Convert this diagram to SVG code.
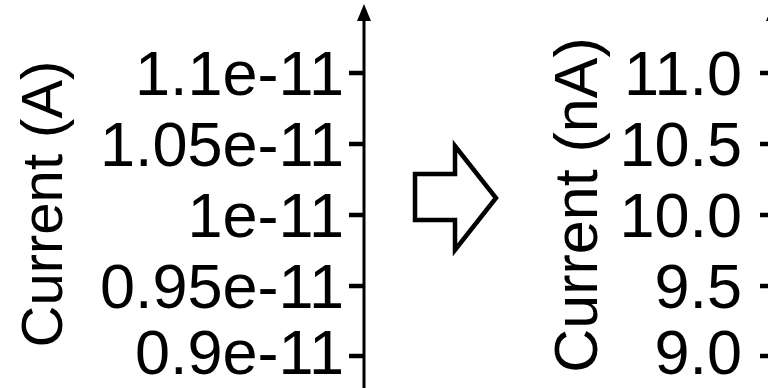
<svg xmlns="http://www.w3.org/2000/svg" width="768" height="388" viewBox="0 0 768 388">
<style>
.t{font-family:"Liberation Sans",Arial,sans-serif;font-size:63px;fill:#000}
.e{text-anchor:end}
.m{text-anchor:middle}
.ax{stroke:#000;stroke-width:3;fill:none}
.tk{stroke:#000;stroke-width:4.5;fill:none}
</style>
<rect width="768" height="388" fill="#fff"/>
<g id="left-axis">
<line class="ax" x1="364" y1="388" x2="364" y2="18"/>
<polygon points="364,4 357,21 371,21" fill="#000"/>
<g class="tk">
<line x1="349" y1="73" x2="364" y2="73"/>
<line x1="349" y1="144" x2="364" y2="144"/>
<line x1="349" y1="215" x2="364" y2="215"/>
<line x1="349" y1="286" x2="364" y2="286"/>
<line x1="349" y1="356" x2="364" y2="356"/>
</g>
<g class="t e">
<text x="344" y="95">1.1e-11</text>
<text x="344" y="166">1.05e-11</text>
<text x="344" y="237">1e-11</text>
<text x="344" y="308">0.95e-11</text>
<text x="344" y="374">0.9e-11</text>
</g>
<text class="t m" style="font-size:58px" transform="translate(62,204) rotate(-90)">Current (A)</text>
</g>
<g id="block-arrow">
<polygon points="415,174 455,174 455,146 496,198 455,250 455,220 415,220" fill="#fff" stroke="#000" stroke-width="4.5" stroke-linejoin="miter"/>
</g>
<g id="right-axis">
<line class="ax" x1="773" y1="388" x2="773" y2="18"/>
<polygon points="773,4 766,21 780,21" fill="#000"/>
<g class="tk">
<line x1="760" y1="73" x2="773" y2="73"/>
<line x1="760" y1="144" x2="773" y2="144"/>
<line x1="760" y1="215" x2="773" y2="215"/>
<line x1="760" y1="286" x2="773" y2="286"/>
<line x1="760" y1="356" x2="773" y2="356"/>
</g>
<g class="t e">
<text x="742" y="95">11.0</text>
<text x="742" y="166">10.5</text>
<text x="742" y="237">10.0</text>
<text x="742" y="308">9.5</text>
<text x="742" y="374">9.0</text>
</g>
<text class="t m" style="font-size:61px" transform="translate(597,205) rotate(-90)">Current (nA)</text>
</g>
</svg>
